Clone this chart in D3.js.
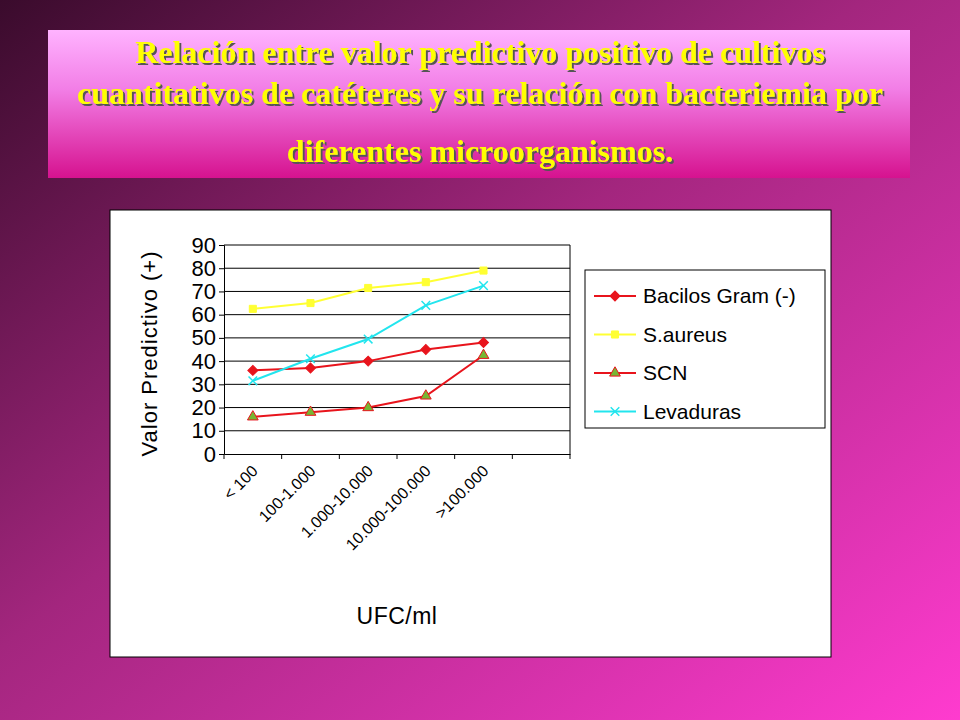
<!DOCTYPE html>
<html><head><meta charset="utf-8">
<script src="https://cdn.jsdelivr.net/npm/d3@7"></script>
<style>body{margin:0;}svg{display:block;}</style>
</head><body>
<script>
const categories = ["< 100", "100-1.000", "1.000-10.000", "10.000-100.000", ">100.000", ""];
const seriesNames = ["Bacilos Gram (-)", "S.aureus", "SCN", "Levaduras"];
const bacilos = [36, 37, 40, 45, 48];
const saureus = [62.5, 65, 71.5, 74, 79];
const scn = [16, 18, 20, 25, 42.5];
const levaduras = [31.5, 41, 49.5, 64, 72.5];
const yTicks = [0, 10, 20, 30, 40, 50, 60, 70, 80, 90];

const W = 960, H = 720;
const svg = d3.select("body").append("svg").attr("width", W).attr("height", H);
const defs = svg.append("defs");
const bg = defs.append("linearGradient").attr("id", "bg").attr("x1", 0).attr("y1", 0).attr("x2", 1).attr("y2", 1);
bg.append("stop").attr("offset", 0).attr("stop-color", "#3a0b2c");
bg.append("stop").attr("offset", 0.45).attr("stop-color", "#a3267e");
bg.append("stop").attr("offset", 1).attr("stop-color", "#ff3bcf");
svg.append("rect").attr("width", W).attr("height", H).attr("fill", "url(#bg)");

const tg = defs.append("linearGradient").attr("id", "tg").attr("x1", 0).attr("y1", 0).attr("x2", 0).attr("y2", 1);
tg.append("stop").attr("offset", 0).attr("stop-color", "#ffb3ff");
tg.append("stop").attr("offset", 0.4).attr("stop-color", "#f27ee6");
tg.append("stop").attr("offset", 1).attr("stop-color", "#d6128f");
svg.append("rect").attr("x", 48).attr("y", 30).attr("width", 862).attr("height", 148).attr("fill", "url(#tg)");

defs.append("filter").attr("id", "sh").append("feDropShadow")
  .attr("dx", 2).attr("dy", 2).attr("stdDeviation", 0.5).attr("flood-color", "#555");

const titleLines = [
  ["Relación entre valor predictivo positivo de cultivos", 63],
  ["cuantitativos de catéteres y su relación con bacteriemia por", 104],
  ["diferentes microorganismos.", 162]
];
titleLines.forEach(([t, y]) => {
  svg.append("text").attr("x", 480).attr("y", y).attr("text-anchor", "middle")
    .attr("font-family", "Liberation Serif").attr("font-weight", "bold").attr("font-size", 32)
    .attr("fill", "#ffff00").attr("filter", "url(#sh)").text(t);
});

svg.append("rect").attr("x", 110).attr("y", 210).attr("width", 721).attr("height", 447)
  .attr("fill", "#fff").attr("stroke", "#000");

const m = { left: 224, right: 570, top: 245, bottom: 454 };
const x = d3.scaleBand().domain(categories).range([m.left, m.right]);
const y = d3.scaleLinear().domain([0, 90]).range([m.bottom, m.top]);
const font = "Liberation Sans";

const g = svg.append("g");
g.selectAll(".grid").data(yTicks.slice(1)).join("line")
  .attr("x1", m.left).attr("x2", m.right).attr("y1", d => y(d)).attr("y2", d => y(d))
  .attr("stroke", "#000").attr("stroke-width", 1);
g.append("line").attr("x1", m.right).attr("x2", m.right).attr("y1", m.top).attr("y2", m.bottom).attr("stroke", "#000");

const gy = g.append("g").attr("transform", `translate(${m.left},0)`)
  .call(d3.axisLeft(y).tickValues(yTicks).tickSize(5).tickPadding(3));
gy.selectAll("text").attr("font-family", font).attr("font-size", 22).attr("fill", "#000");

const gx = g.append("g").attr("transform", `translate(0,${m.bottom})`)
  .call(d3.axisBottom(x).tickSize(0).tickFormat(""));
gx.selectAll(".tick").remove();
gx.selectAll(".sep").data(d3.range(categories.length + 1)).join("line")
  .attr("x1", i => m.left + i * x.step()).attr("x2", i => m.left + i * x.step())
  .attr("y1", 0).attr("y2", 5).attr("stroke", "#000");
g.selectAll(".xl").data(categories.filter(c => c)).join("text")
  .attr("transform", d => `translate(${x(d) + x.bandwidth() / 2 + 6},${m.bottom + 18}) rotate(-45)`)
  .attr("text-anchor", "end").attr("font-family", font).attr("font-size", 16).text(d => d);

g.append("text").attr("transform", `translate(157,${(m.top + m.bottom) / 2 + 4}) rotate(-90)`)
  .attr("text-anchor", "middle").attr("font-family", font).attr("font-size", 22)
  .attr("letter-spacing", 1).text("Valor Predictivo (+)");
g.append("text").attr("x", 397).attr("y", 624).attr("text-anchor", "middle")
  .attr("font-family", font).attr("font-size", 23).attr("letter-spacing", 0.5).text("UFC/ml");

const series = [
  { name: seriesNames[0], vals: bacilos, color: "#e8141c", marker: "diamond", fill: "#e8141c" },
  { name: seriesNames[1], vals: saureus, color: "#ffff33", marker: "square", fill: "#ffff33" },
  { name: seriesNames[2], vals: scn, color: "#e8141c", marker: "triangle", fill: "#77b633" },
  { name: seriesNames[3], vals: levaduras, color: "#22e5ee", marker: "x", fill: "none" }
];
const sym = { diamond: d3.symbolSquare, square: d3.symbolSquare, triangle: d3.symbolTriangle, x: d3.symbolTimes };
const cx = i => x(categories[i]) + x.bandwidth() / 2;
const line = d3.line().x((d, i) => cx(i)).y(d => y(d));

function marker(sel, s) {
  sel.attr("d", d3.symbol().type(sym[s.marker]).size(s.marker === "x" ? 50 : 50)())
    .attr("fill", s.fill)
    .attr("stroke", s.color)
    .attr("stroke-width", s.marker === "x" ? 1.5 : 1);
}
const rot = s => (s.marker === "diamond" ? " rotate(45)" : "");

series.forEach(s => {
  g.append("path").datum(s.vals).attr("d", line).attr("fill", "none").attr("stroke", s.color).attr("stroke-width", 2);
  g.selectAll(null).data(s.vals).join("path")
    .attr("transform", (d, i) => `translate(${cx(i)},${y(d)})${rot(s)}`).call(marker, s);
});

const lg = svg.append("g");
lg.append("rect").attr("x", 585).attr("y", 270).attr("width", 240).attr("height", 158).attr("fill", "#fff").attr("stroke", "#000");
series.forEach((s, i) => {
  const yy = 296 + i * 38.5;
  lg.append("line").attr("x1", 594).attr("x2", 636).attr("y1", yy).attr("y2", yy).attr("stroke", s.color).attr("stroke-width", 2);
  lg.append("path").attr("transform", `translate(615,${yy})${rot(s)}`).call(marker, s);
  lg.append("text").attr("x", 643).attr("y", yy + 7).attr("font-family", font).attr("font-size", 21).text(s.name);
});
</script>
</body></html>
